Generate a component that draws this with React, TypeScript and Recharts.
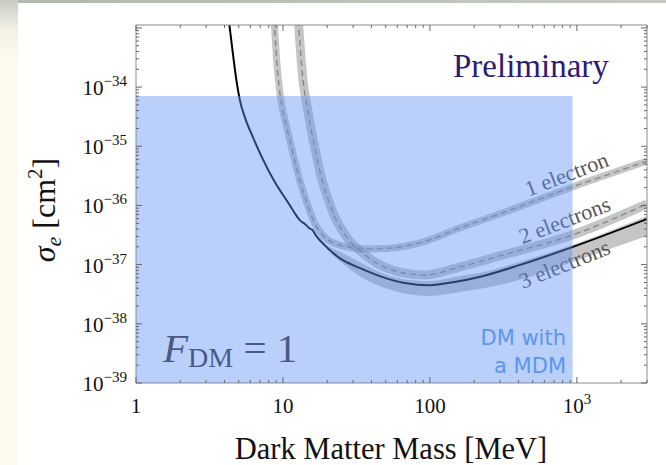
import React from 'react';
import {
  ComposedChart,
  Line,
  Area,
  XAxis,
  YAxis,
  ReferenceArea,
  ReferenceDot,
} from 'recharts';

// Dark matter mass [MeV] and cross-section limit [cm^2] for the combined limit
const combinedMass = [4.06, 4.28, 4.56, 4.82, 5.09, 5.5, 6.24, 7.18, 8.8, 11.1, 12.0, 13.0, 14.1, 15.4, 15.9, 16.7, 19.2, 24.3, 33.2, 45.5, 67.2, 99.4, 147, 217, 406, 931, 3000];
const combinedSigma = [4.36e-33, 1.355e-33, 3.75e-34, 1.31e-34, 6.03e-35, 3.11e-35, 1.43e-35, 6.57e-36, 2.48e-36, 1.02e-36, 7.45e-37, 5.66e-37, 4.85e-37, 4.0e-37, 3.84e-37, 3.16e-37, 2.14e-37, 1.29e-37, 8.8e-38, 6.4e-38, 4.9e-38, 4.5e-38, 5.1e-38, 6.2e-38, 9.8e-38, 1.98e-37, 5.9e-37];

// 1-electron limit (band centre)
const oneMass = [8.46, 8.75, 9.08, 9.41, 9.81, 10.6, 11.5, 13.0, 14.7, 16.4, 19.2, 24.3, 35.9, 53.2, 89.1, 159, 297, 931, 3000];
const oneSigma = [4.36e-33, 1.12e-33, 2.64e-34, 1.04e-34, 4.97e-35, 2.11e-35, 8.97e-36, 2.69e-36, 1.02e-36, 5.05e-37, 2.92e-37, 2.14e-37, 1.84e-37, 1.9e-37, 2.41e-37, 4.15e-37, 7.16e-37, 2.05e-36, 5.6e-36];

// 2-electron limit (band centre)
const twoMass = [12.3, 12.8, 13.3, 13.8, 14.5, 15.4, 16.7, 18.3, 20.2, 22.1, 27.5, 34.3, 43.4, 62.1, 91.9, 159, 297, 931, 3000];
const twoSigma = [4.36e-33, 1.12e-33, 2.86e-34, 1.12e-34, 5.16e-35, 2.19e-35, 7.98e-36, 2.9e-36, 1.33e-36, 7.16e-37, 2.81e-37, 1.63e-37, 1.06e-37, 7.5e-38, 6.67e-38, 9.1e-38, 1.4e-37, 3.16e-37, 1.06e-36];

// 3-electron limit band (lower / upper edge)
const threeMass = [17.8, 20.8, 26.3, 33.2, 45.5, 65.2, 99.4, 159, 217, 406, 931, 3000];
const threeLow = [2.5e-37, 1.63e-37, 9.85e-38, 6.42e-38, 4.35e-38, 3.31e-38, 2.95e-38, 3.44e-38, 3.87e-38, 5.5e-38, 1.11e-37, 3.04e-37];
const threeHigh = [2.5e-37, 1.98e-37, 1.51e-37, 1.11e-37, 7.5e-38, 5.71e-38, 5.28e-38, 6.42e-38, 7.21e-38, 1.11e-37, 2.14e-37, 6.62e-37];

// Region reachable by DM with a millicharged dark mediator
const mdmMassMax = 935;
const mdmSigmaMax = 7.05e-35;

const massDomain: [number, number] = [1, 3000];
const sigmaDomain: [number, number] = [1e-39, 1.12e-33];

const massTicks = [1, 2, 3, 4, 5, 6, 7, 8, 9, 10, 20, 30, 40, 50, 60, 70, 80, 90, 100, 200, 300, 400, 500, 600, 700, 800, 900, 1000, 2000, 3000];
const sigmaTicks = [
  1e-39, 2e-39, 3e-39, 4e-39, 5e-39, 6e-39, 7e-39, 8e-39, 9e-39,
  1e-38, 2e-38, 3e-38, 4e-38, 5e-38, 6e-38, 7e-38, 8e-38, 9e-38,
  1e-37, 2e-37, 3e-37, 4e-37, 5e-37, 6e-37, 7e-37, 8e-37, 9e-37,
  1e-36, 2e-36, 3e-36, 4e-36, 5e-36, 6e-36, 7e-36, 8e-36, 9e-36,
  1e-35, 2e-35, 3e-35, 4e-35, 5e-35, 6e-35, 7e-35, 8e-35, 9e-35,
  1e-34, 2e-34, 3e-34, 4e-34, 5e-34, 6e-34, 7e-34, 8e-34, 9e-34,
  1e-33,
];
const sigmaLabelExponents = [-39, -38, -37, -36, -35, -34];
const massTickLabels: Record<number, string[]> = {
  1: ['1', ''],
  10: ['10', ''],
  100: ['100', ''],
  1000: ['10', '3'],
};

const curveLabels = [
  { text: '1 electron', mass: 888, sigma: 2.58e-36, angle: -21 },
  { text: '2 electrons', mass: 861, sigma: 4.3e-37, angle: -21 },
  { text: '3 electrons', mass: 861, sigma: 7.8e-38, angle: -22 },
];

const zip = (xs: number[], ys: number[]) => xs.map((m, i) => ({ m, s: ys[i] }));
const combinedData = zip(combinedMass, combinedSigma);
const oneData = zip(oneMass, oneSigma);
const twoData = zip(twoMass, twoSigma);
const threeData = threeMass.map((m, i) => ({ m, r: [threeLow[i], threeHigh[i]] }));

const SERIF = '"Liberation Serif", "Times New Roman", serif';
const FRAME = '#8a8a8a';
const TICK = '#666';

const isDecade = (v: number) => {
  const e = Math.round(Math.log10(v));
  return Math.abs(v / Math.pow(10, e) - 1) < 1e-6;
};

const LeftTick = (props: any) => {
  const { x, y, payload } = props;
  const v = payload.value as number;
  const major = isDecade(v);
  const e = Math.round(Math.log10(v));
  const labelled = major && sigmaLabelExponents.includes(e);
  return (
    <g>
      <line x1={x} x2={x + (major ? 6 : 3)} y1={y} y2={y} stroke={TICK} strokeWidth={1} />
      {labelled && (
        <text x={x - 9} y={y + 8} textAnchor="end" fontFamily={SERIF} fontSize={21} fill="#111">
          10
          <tspan dy={-9} fontSize={15}>{`\u2212${-e}`}</tspan>
        </text>
      )}
    </g>
  );
};

const RightTick = (props: any) => {
  const { x, y, payload } = props;
  const major = isDecade(payload.value);
  return <line x1={x} x2={x - (major ? 6 : 3)} y1={y} y2={y} stroke={TICK} strokeWidth={1} />;
};

const BottomTick = (props: any) => {
  const { x, y, payload } = props;
  const v = payload.value as number;
  const major = isDecade(v);
  const lab = massTickLabels[v];
  return (
    <g>
      <line x1={x} x2={x} y1={y} y2={y - (major ? 6 : 3)} stroke={TICK} strokeWidth={1} />
      {lab && (
        <text x={x} y={y + 30} textAnchor="middle" fontFamily={SERIF} fontSize={21} fill="#111">
          {lab[0]}
          {lab[1] && (
            <tspan dy={-9} fontSize={15}>
              {lab[1]}
            </tspan>
          )}
        </text>
      )}
    </g>
  );
};

const TopTick = (props: any) => {
  const { x, y, payload } = props;
  const major = isDecade(payload.value);
  return <line x1={x} x2={x} y1={y} y2={y + (major ? 6 : 3)} stroke={TICK} strokeWidth={1} />;
};

const makeLabelShape = (text: string, angle: number) => (p: any) => (
  <text
    x={p.cx}
    y={p.cy}
    textAnchor="middle"
    transform={`rotate(${angle} ${p.cx} ${p.cy})`}
    fontFamily={SERIF}
    fontSize={22}
    fill="#555"
  >
    {text}
  </text>
);

export default function App() {
  return (
    <div style={{ position: 'absolute', left: 0, top: 0, width: 666, height: 465, background: '#fff', overflow: 'hidden' }}>
      <div
        style={{
          position: 'absolute', left: 0, top: 0, width: 18, height: 465,
          background: 'linear-gradient(to bottom, #c9ccc2 0px, #f3f1e6 30px, #fdfbf0 60px, #fdfbf0 100%)',
        }}
      />
      <div
        style={{
          position: 'absolute', left: 18, top: 0, width: 648, height: 3,
          background: 'linear-gradient(to right, #b3b8af, #c5c9c1)',
        }}
      />
      <div style={{ position: 'absolute', left: 0, top: 0 }}>
        <ComposedChart width={666} height={465} margin={{ top: 24, right: 18, bottom: 2, left: 36 }}>
          <XAxis
            xAxisId={0}
            dataKey="m"
            type="number"
            scale="log"
            domain={massDomain}
            allowDataOverflow
            ticks={massTicks}
            interval={0}
            height={80}
            tickSize={0}
            tickMargin={0}
            tickLine={false}
            axisLine={{ stroke: FRAME }}
            tick={<BottomTick />}
          />
          <XAxis
            xAxisId="top"
            orientation="top"
            dataKey="m"
            type="number"
            scale="log"
            domain={massDomain}
            allowDataOverflow
            ticks={massTicks}
            interval={0}
            height={1}
            tickSize={0}
            tickMargin={0}
            tickLine={false}
            axisLine={{ stroke: FRAME }}
            tick={<TopTick />}
          />
          <YAxis
            yAxisId={0}
            type="number"
            scale="log"
            domain={sigmaDomain}
            allowDataOverflow
            ticks={sigmaTicks}
            interval={0}
            width={100}
            tickSize={0}
            tickMargin={0}
            tickLine={false}
            axisLine={{ stroke: FRAME }}
            tick={<LeftTick />}
          />
          <YAxis
            yAxisId="right"
            orientation="right"
            type="number"
            scale="log"
            domain={sigmaDomain}
            allowDataOverflow
            ticks={sigmaTicks}
            interval={0}
            width={1}
            tickSize={0}
            tickMargin={0}
            tickLine={false}
            axisLine={{ stroke: FRAME }}
            tick={<RightTick />}
          />

          <Area
            data={threeData}
            dataKey="r"
            type="monotone"
            stroke="none"
            fill="rgb(140,140,140)"
            fillOpacity={0.5}
            isAnimationActive={false}
          />
          <Line data={oneData} dataKey="s" type="monotone" stroke="rgba(140,140,140,0.5)" strokeWidth={7} dot={false} isAnimationActive={false} />
          <Line data={twoData} dataKey="s" type="monotone" stroke="rgba(140,140,140,0.5)" strokeWidth={9} dot={false} isAnimationActive={false} />
          <Line data={oneData} dataKey="s" type="monotone" stroke="#858585" strokeWidth={1.3} strokeDasharray="6 4" dot={false} isAnimationActive={false} />
          <Line data={twoData} dataKey="s" type="monotone" stroke="#858585" strokeWidth={1.3} strokeDasharray="6 4" dot={false} isAnimationActive={false} />
          <Line data={combinedData} dataKey="s" type="monotone" stroke="#000" strokeWidth={2} dot={false} isAnimationActive={false} />

          {curveLabels.map((c) => (
            <ReferenceDot
              key={c.text}
              x={c.mass}
              y={c.sigma}
              r={0}
              shape={makeLabelShape(c.text, c.angle)}
            />
          ))}

          <ReferenceArea
            x1={1}
            x2={mdmMassMax}
            y1={sigmaDomain[0]}
            y2={mdmSigmaMax}
            fill="rgb(95,145,245)"
            fillOpacity={0.43}
            stroke="none"
            zIndex={1500}
          />
        </ComposedChart>
      </div>

      <svg width={666} height={465} style={{ position: 'absolute', left: 0, top: 0, pointerEvents: 'none' }}>
        <text x={453} y={77} fontFamily={SERIF} fontSize={33} fill="#2d1a74">
          Preliminary
        </text>
        <text x={163} y={362} fontFamily={SERIF} fontSize={41} fill="#4a5a84">
          <tspan fontStyle="italic">F</tspan>
          <tspan fontSize={28} dy={5}>DM</tspan>
          <tspan dy={-5}> = 1</tspan>
        </text>
        <text x={566} y={345} textAnchor="end" fontFamily='"DejaVu Sans", sans-serif' fontSize={21} fill="#5a96f0">
          DM with
        </text>
        <text x={566} y={373} textAnchor="end" fontFamily='"DejaVu Sans", sans-serif' fontSize={21} fill="#5a96f0">
          a MDM
        </text>
        <text x={391} y={459} textAnchor="middle" fontFamily={SERIF} fontSize={30.5} fill="#111">
          Dark Matter Mass [MeV]
        </text>
        <text transform="translate(55,210) rotate(-90)" textAnchor="middle" fontFamily={SERIF} fontSize={32} fill="#111">
          <tspan fontStyle="italic">σ</tspan>
          <tspan fontStyle="italic" fontSize={22} dy={6}>e</tspan>
          <tspan dy={-6}> [cm</tspan>
          <tspan fontSize={21} dy={-13}>2</tspan>
          <tspan dy={13}>]</tspan>
        </text>
      </svg>
    </div>
  );
}
